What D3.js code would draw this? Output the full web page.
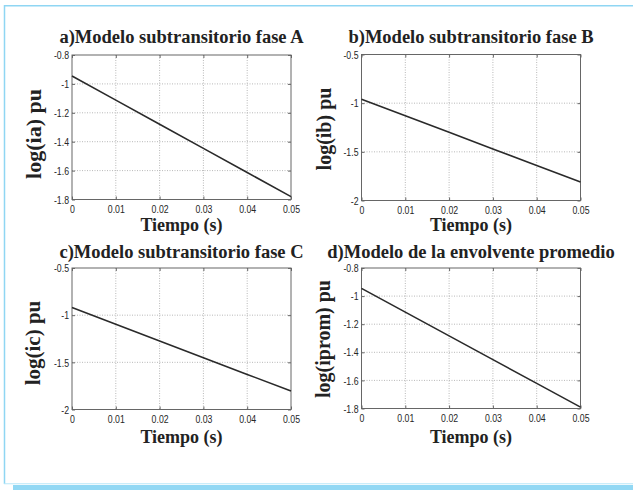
<!DOCTYPE html>
<html><head><meta charset="utf-8">
<script src="https://cdn.jsdelivr.net/npm/d3@7"></script>
<style>
html,body{margin:0;padding:0;background:#fff;}
svg{display:block;}
</style></head>
<body>
<svg id="chart" width="633" height="490"></svg>
<script>
// ---- data ----
const timeValues = [0, 0.01, 0.02, 0.03, 0.04, 0.05];
const xTickValues = [0, 0.01, 0.02, 0.03, 0.04, 0.05];
const xTickLabels = ["0", "0.01", "0.02", "0.03", "0.04", "0.05"];

const seriesA = [-0.945, -1.112, -1.279, -1.446, -1.613, -1.78];
const seriesB = [-0.96, -1.13, -1.30, -1.47, -1.64, -1.81];
const seriesC = [-0.92, -1.097, -1.274, -1.451, -1.628, -1.805];
const seriesD = [-0.945, -1.114, -1.283, -1.452, -1.621, -1.79];

const yTicksA = [-1.8, -1.6, -1.4, -1.2, -1, -0.8];
const yTickLabelsA = ["-1.8", "-1.6", "-1.4", "-1.2", "-1", "-0.8"];
const yTicksB = [-2, -1.5, -1, -0.5];
const yTickLabelsB = ["-2", "-1.5", "-1", "-0.5"];

const titles = ["a)Modelo subtransitorio fase A", "b)Modelo subtransitorio fase B",
                "c)Modelo subtransitorio fase C", "d)Modelo de la envolvente promedio"];
const yLabels = ["log(ia) pu", "log(ib) pu", "log(ic) pu", "log(iprom) pu"];
const xLabel = "Tiempo (s)";

// ---- layout ----
const panels = [
  {series: seriesA, yTicks: yTicksA, yLabs: yTickLabelsA, dom: [-1.8, -0.8],
   x0: 72, x1: 291, y0: 55, y1: 199.5, titleY: 43, xlabY: 230.5, ylabX: 41, ylabY: 134, ylabSize: 22},
  {series: seriesB, yTicks: yTicksB, yLabs: yTickLabelsB, dom: [-2, -0.5],
   x0: 361.5, x1: 580.5, y0: 54.5, y1: 200.5, titleY: 43, xlabY: 230.5, ylabX: 331, ylabY: 129, ylabSize: 20},
  {series: seriesC, yTicks: yTicksB, yLabs: yTickLabelsB, dom: [-2, -0.5],
   x0: 72, x1: 291, y0: 268, y1: 409.5, titleY: 257.5, xlabY: 442.5, ylabX: 40, ylabY: 343, ylabSize: 21},
  {series: seriesD, yTicks: yTicksA, yLabs: yTickLabelsA, dom: [-1.8, -0.8],
   x0: 361.5, x1: 580.5, y0: 268, y1: 408.5, titleY: 257.5, xlabY: 442.5, ylabX: 330, ylabY: 339, ylabSize: 20}
];

const svg = d3.select("#chart");

// frame
const frameCol = "#8fd6f3";
svg.append("line").attr("x1", 4).attr("x2", 633).attr("y1", 5.75).attr("y2", 5.75)
  .attr("stroke", frameCol).attr("stroke-width", 1.5);
svg.append("line").attr("x1", 4.5).attr("x2", 4.5).attr("y1", 5).attr("y2", 484)
  .attr("stroke", frameCol).attr("stroke-width", 1.5);
svg.append("line").attr("x1", 4).attr("x2", 633).attr("y1", 483.75).attr("y2", 483.75)
  .attr("stroke", "#b9e7f8").attr("stroke-width", 1);
svg.append("rect").attr("x", 13).attr("y", 485).attr("width", 620).attr("height", 5)
  .attr("fill", "#92d8f4");

panels.forEach((p, i) => {
  const x = d3.scaleLinear().domain([0, 0.05]).range([p.x0, p.x1]);
  const y = d3.scaleLinear().domain(p.dom).range([p.y1, p.y0]);
  const g = svg.append("g");

  // grid
  g.append("g").selectAll("line").data(xTickValues.slice(1, -1)).join("line")
    .attr("x1", d => x(d)).attr("x2", d => x(d)).attr("y1", p.y0).attr("y2", p.y1)
    .attr("stroke", "#b0b0b0").attr("stroke-width", 0.9).attr("stroke-dasharray", "1,1.5");
  g.append("g").selectAll("line").data(p.yTicks.slice(1, -1)).join("line")
    .attr("y1", d => y(d)).attr("y2", d => y(d)).attr("x1", p.x0).attr("x2", p.x1)
    .attr("stroke", "#b0b0b0").attr("stroke-width", 0.9).attr("stroke-dasharray", "1,1.5");

  // axes (inward ticks, box)
  const xb = d3.axisBottom(x).tickValues(xTickValues).tickSize(-3).tickFormat((d, k) => xTickLabels[k]).tickPadding(5.5);
  const xt = d3.axisTop(x).tickValues(xTickValues).tickSize(-3).tickFormat("");
  const yl = d3.axisLeft(y).tickValues(p.yTicks).tickSize(-3).tickFormat((d, k) => p.yLabs[k]).tickPadding(3);
  const yr = d3.axisRight(y).tickValues(p.yTicks).tickSize(-3).tickFormat("");

  const style = sel => {
    sel.select(".domain").attr("stroke", "#666").attr("stroke-width", 1);
    sel.selectAll(".tick line").attr("stroke", "#666");
    sel.selectAll(".tick text").attr("fill", "#262626")
      .style("font-family", "'Liberation Sans', Arial, sans-serif").style("font-size", "11.5px")
      .each(function () {
        const w = this.getComputedTextLength();
        if (w > 0) d3.select(this).attr("textLength", w * 0.76).attr("lengthAdjust", "spacingAndGlyphs");
      });
  };
  g.append("g").attr("transform", `translate(0,${p.y1})`).call(xb).call(style);
  g.append("g").attr("transform", `translate(0,${p.y0})`).call(xt).call(style);
  g.append("g").attr("transform", `translate(${p.x0},0)`).call(yl).call(style);
  g.append("g").attr("transform", `translate(${p.x1},0)`).call(yr).call(style);
  g.selectAll(".domain").attr("d", null);
  g.append("rect").attr("x", p.x0).attr("y", p.y0).attr("width", p.x1 - p.x0).attr("height", p.y1 - p.y0)
    .attr("fill", "none").attr("stroke", "#666").attr("stroke-width", 1);

  // line
  const line = d3.line().x((d, k) => x(timeValues[k])).y(d => y(d));
  g.append("path").datum(p.series).attr("d", line)
    .attr("fill", "none").attr("stroke", "#2a2a2a").attr("stroke-width", 1.6);

  // texts
  const serif = "'Liberation Serif', 'Times New Roman', serif";
  g.append("text").attr("x", (p.x0 + p.x1) / 2).attr("y", p.titleY)
    .attr("text-anchor", "middle").style("font-family", serif).style("font-weight", "bold")
    .style("font-size", "18.5px").attr("fill", "#222").text(titles[i]);
  g.append("text").attr("x", (p.x0 + p.x1) / 2).attr("y", p.xlabY)
    .attr("text-anchor", "middle").style("font-family", serif).style("font-weight", "bold")
    .style("font-size", "18px").attr("fill", "#222").text(xLabel);
  g.append("text").attr("transform", `translate(${p.ylabX},${p.ylabY}) rotate(-90)`)
    .attr("text-anchor", "middle").style("font-family", serif).style("font-weight", "bold")
    .style("font-size", p.ylabSize + "px").attr("fill", "#222").text(yLabels[i]);
});
</script>
</body></html>
